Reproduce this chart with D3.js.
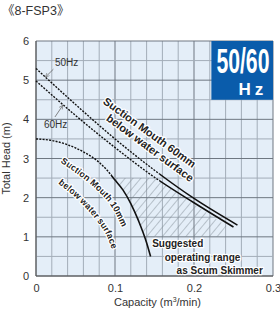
<!DOCTYPE html>
<html>
<head>
<meta charset="utf-8">
<script src="https://cdn.jsdelivr.net/npm/d3@7"></script>
<style>
  body { margin: 0; background: #fff; }
  text { font-family: "Liberation Sans", Arial, "Noto Sans CJK JP", sans-serif; }
</style>
</head>
<body>
<svg id="chart" width="280" height="317"></svg>
<script>
// axis ticks
const xTicks = [0, 0.1, 0.2, 0.3];
const yTicks = [0, 1, 2, 3, 4, 5, 6];

// suction mouth 60mm below water surface
const flow50Hz = [0, 0.05, 0.1, 0.15, 0.2, 0.255];
const head50Hz = [5.3, 4.38, 3.5, 2.7, 1.98, 1.3];
const flow60Hz = [0, 0.05, 0.1, 0.15, 0.2, 0.25];
const head60Hz = [4.98, 4.1, 3.28, 2.52, 1.87, 1.25];

// suction mouth 10mm below water surface
const flow10mm = [0, 0.02, 0.04, 0.06, 0.08, 0.09, 0.1, 0.11, 0.12, 0.13, 0.14, 0.145];
const head10mm = [3.5, 3.46, 3.35, 3.17, 2.9, 2.7, 2.45, 2.2, 1.85, 1.4, 0.85, 0.5];

// suggested operating range (scum skimmer)
const rangeFlow = [0.098, 0.15, 0.2, 0.241, 0.232, 0.138, 0.13, 0.12, 0.11, 0.1];
const rangeHead = [2.5, 2.5, 1.83, 1.28, 1.0, 1.0, 1.4, 1.85, 2.2, 2.45];

const split60 = 0.156;
const split10 = 0.095;

const svg = d3.select("#chart");
const margin = { top: 41, right: 7, bottom: 41, left: 36 };
const width = 280 - margin.left - margin.right;
const height = 317 - margin.top - margin.bottom;

const x = d3.scaleLinear().domain([0, 0.3]).range([0, width]);
const y = d3.scaleLinear().domain([0, 6]).range([height, 0]);

svg.append("text")
  .attr("x", 2).attr("y", 15)
  .attr("font-size", 12.5).attr("fill", "#333")
  .text("《8-FSP3》");

const g = svg.append("g")
  .attr("transform", "translate(" + margin.left + "," + margin.top + ")");

const defs = svg.append("defs");
defs.append("pattern")
  .attr("id", "hatch")
  .attr("patternUnits", "userSpaceOnUse")
  .attr("width", 6).attr("height", 6)
  .attr("patternTransform", "rotate(40)")
  .append("line")
  .attr("x1", 0).attr("y1", 0).attr("x2", 0).attr("y2", 6)
  .attr("stroke", "#7d8791").attr("stroke-width", 0.9);

defs.append("clipPath").attr("id", "left60")
  .append("rect").attr("x", -2).attr("y", -2)
  .attr("width", x(split60) + 2).attr("height", height + 4);
defs.append("clipPath").attr("id", "right60")
  .append("rect").attr("x", x(split60)).attr("y", -2)
  .attr("width", width - x(split60) + 2).attr("height", height + 4);
defs.append("clipPath").attr("id", "left10")
  .append("rect").attr("x", -2).attr("y", -2)
  .attr("width", x(split10) + 2).attr("height", height + 4);
defs.append("clipPath").attr("id", "right10")
  .append("rect").attr("x", x(split10)).attr("y", -2)
  .attr("width", width - x(split10) + 2).attr("height", height + 4);

defs.append("marker")
  .attr("id", "arrow")
  .attr("viewBox", "0 0 10 10")
  .attr("refX", 9).attr("refY", 5)
  .attr("markerWidth", 6).attr("markerHeight", 6)
  .attr("orient", "auto")
  .append("path")
  .attr("d", "M1,1 L9,5 L1,9")
  .attr("fill", "none").attr("stroke", "#666").attr("stroke-width", 1.2);

// background
g.append("rect")
  .attr("width", width).attr("height", height)
  .attr("fill", "#e4eef8");

// grid
const vMinor = d3.range(0, 0.3001, 0.02);
const hMinor = d3.range(0, 6.001, 0.5);
g.append("g").selectAll("line")
  .data(vMinor)
  .join("line")
  .attr("x1", d => x(d)).attr("x2", d => x(d))
  .attr("y1", 0).attr("y2", height)
  .attr("stroke", d => Math.abs(d * 10 - Math.round(d * 10)) < 1e-6 ? "#6e7781" : "#a3adb8")
  .attr("stroke-width", 1);
g.append("g").selectAll("line")
  .data(hMinor)
  .join("line")
  .attr("y1", d => y(d)).attr("y2", d => y(d))
  .attr("x1", 0).attr("x2", width)
  .attr("stroke", d => Number.isInteger(d) ? "#6e7781" : "#a3adb8")
  .attr("stroke-width", 1);
g.append("line")
  .attr("x1", 0).attr("x2", 0).attr("y1", 0).attr("y2", height)
  .attr("stroke", "#555");
g.append("line")
  .attr("x1", 0).attr("x2", width).attr("y1", height).attr("y2", height)
  .attr("stroke", "#555");

// operating range hatch
const rangePts = rangeFlow.map((f, i) => [x(f), y(rangeHead[i])]);
g.append("path")
  .attr("d", "M" + rangePts.join("L") + "Z")
  .attr("fill", "url(#hatch)");

// curves
const line = d3.line()
  .x(d => x(d[0])).y(d => y(d[1]))
  .curve(d3.curveMonotoneX);

function drawCurve(flow, head, leftClip, rightClip) {
  const pts = flow.map((f, i) => [f, head[i]]);
  g.append("path")
    .attr("d", line(pts))
    .attr("clip-path", "url(#" + leftClip + ")")
    .attr("fill", "none").attr("stroke", "#111")
    .attr("stroke-width", 1.4).attr("stroke-dasharray", "2,1.3");
  g.append("path")
    .attr("d", line(pts))
    .attr("clip-path", "url(#" + rightClip + ")")
    .attr("fill", "none").attr("stroke", "#111")
    .attr("stroke-width", 1.6);
}
drawCurve(flow50Hz, head50Hz, "left60", "right60");
drawCurve(flow60Hz, head60Hz, "left60", "right60");
drawCurve(flow10mm, head10mm, "left10", "right10");

// axes
g.append("g")
  .attr("transform", "translate(0," + height + ")")
  .call(d3.axisBottom(x).tickValues(xTicks).tickSize(0).tickPadding(8)
    .tickFormat(d => d === 0 ? "0" : d3.format(".1f")(d)))
  .call(a => a.select(".domain").remove())
  .selectAll("text").attr("font-size", 11).attr("fill", "#333")
  .style("font-family", "Liberation Sans, Arial, sans-serif");

g.append("g")
  .call(d3.axisLeft(y).tickValues(yTicks).tickSize(0).tickPadding(7)
    .tickFormat(d3.format("d")))
  .call(a => a.select(".domain").remove())
  .selectAll("text").attr("font-size", 11).attr("fill", "#333")
  .style("font-family", "Liberation Sans, Arial, sans-serif");

svg.append("text")
  .attr("transform", "translate(10," + (margin.top + y(3)) + ") rotate(-90)")
  .attr("text-anchor", "middle")
  .attr("font-size", 11).attr("fill", "#333")
  .text("Total Head (m)");

const xl = svg.append("text")
  .attr("x", margin.left + x(0.15) + 3).attr("y", 306)
  .attr("text-anchor", "middle")
  .attr("font-size", 11).attr("fill", "#333");
xl.append("tspan").text("Capacity (m");
xl.append("tspan").attr("dy", -4).attr("font-size", 7).text("3");
xl.append("tspan").attr("dy", 4).text("/min)");

// 50/60 Hz badge
const badge = g.append("g").attr("transform", "translate(" + x(0.222) + ",0)");
badge.append("rect")
  .attr("width", width - x(0.222)).attr("height", y(4.5))
  .attr("fill", "#0a5cab");
badge.append("text")
  .attr("transform", "translate(5,32) scale(0.606,1)")
  .attr("font-size", 35).attr("font-weight", "bold").attr("fill", "#fff")
  .text("50/60");
const hz = badge.append("text")
  .attr("x", 27).attr("y", 54)
  .attr("font-size", 17).attr("font-weight", "bold").attr("fill", "#fff");
hz.append("tspan").text("H");
hz.append("tspan").attr("dx", 4).text("z");

// frequency labels
function freqLabel(tx, ty, label, ax1, ay1, ax2, ay2) {
  g.append("text")
    .attr("x", x(tx)).attr("y", y(ty))
    .attr("font-size", 10).attr("fill", "#333")
    .text(label);
  g.append("line")
    .attr("x1", x(ax1)).attr("y1", y(ay1))
    .attr("x2", x(ax2)).attr("y2", y(ay2))
    .attr("stroke", "#666").attr("stroke-width", 0.8)
    .attr("marker-end", "url(#arrow)");
}
freqLabel(0.024, 5.36, "50Hz", 0.022, 5.28, 0.012, 5.08);
freqLabel(0.01, 3.78, "60Hz", 0.024, 4.06, 0.034, 4.36);

// rotated 60mm labels
function haloText(sel) {
  return sel.attr("stroke", "#fff").attr("stroke-width", 2.5)
    .attr("stroke-linejoin", "round").attr("paint-order", "stroke");
}
haloText(g.append("text")
  .attr("transform", "translate(" + x(0.084) + "," + y(4.42) + ") rotate(36)")
  .attr("font-size", 11).attr("font-weight", "bold").attr("fill", "#222")
  .text("Suction Mouth 60mm"));
haloText(g.append("text")
  .attr("transform", "translate(" + x(0.088) + "," + y(3.99) + ") rotate(36.5)")
  .attr("font-size", 11).attr("font-weight", "bold").attr("fill", "#222")
  .text("below water surface"));

// curved 10mm labels
const pathA = [[0.031, 2.9], [0.068, 2.36], [0.094, 1.82], [0.111, 1.16]];
const pathB = [[0.028, 2.36], [0.05, 2.0], [0.072, 1.53], [0.089, 1.05], [0.098, 0.55]];
const guide = d3.line().x(d => x(d[0])).y(d => y(d[1])).curve(d3.curveCatmullRom);
defs.append("path").attr("id", "pathA")
  .attr("d", guide(pathA)).attr("transform", "translate(" + margin.left + "," + margin.top + ")");
defs.append("path").attr("id", "pathB")
  .attr("d", guide(pathB)).attr("transform", "translate(" + margin.left + "," + margin.top + ")");
haloText(svg.append("text")
  .attr("font-size", 9).attr("font-weight", "bold").attr("fill", "#222"))
  .append("textPath").attr("href", "#pathA").text("Suction Mouth 10mm");
haloText(svg.append("text")
  .attr("font-size", 9).attr("font-weight", "bold").attr("fill", "#222"))
  .append("textPath").attr("href", "#pathB").text("below water surface");

// operating range note
const note = [["Suggested", 0.147, 0.74], ["operating range", 0.163, 0.38], ["as Scum Skimmer", 0.178, 0.05]];
note.forEach(n => {
  haloText(g.append("text")
    .attr("x", x(n[1])).attr("y", y(n[2]))
    .attr("font-size", 10).attr("font-weight", "bold").attr("fill", "#222")
    .text(n[0]));
});
</script>
</body>
</html>
